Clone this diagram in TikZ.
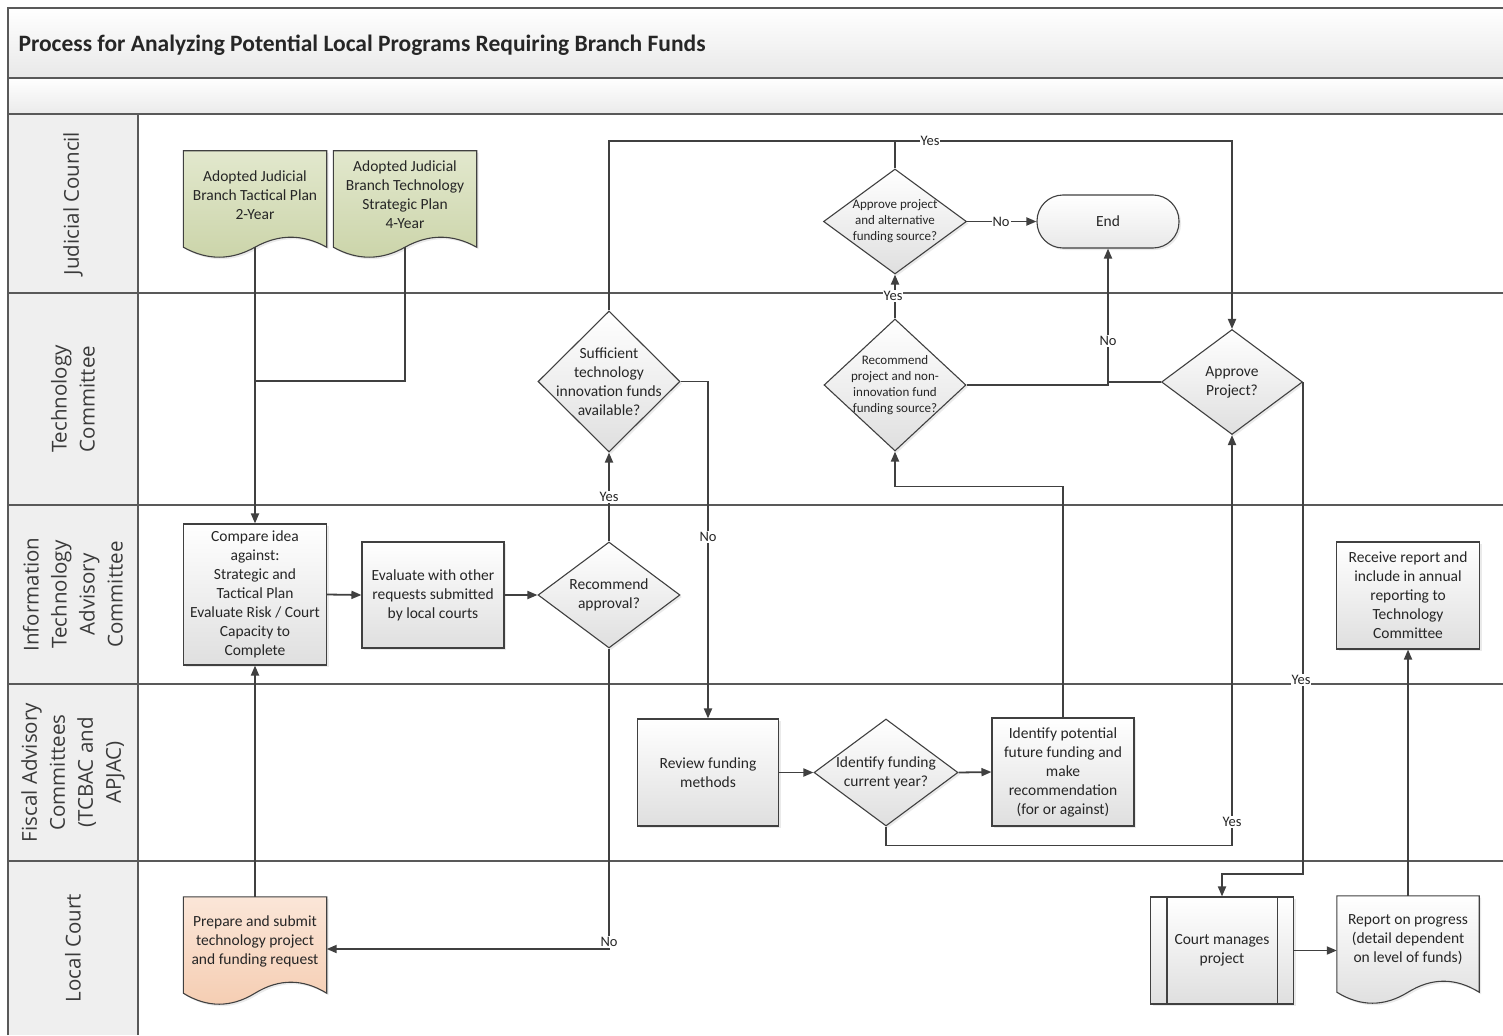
\documentclass[tikz,border=0pt]{standalone}
\usepackage{fontspec}
\setmainfont{Carlito}
\newfontfamily\lanefont{Open Sans}
\usetikzlibrary{arrows.meta,shapes.geometric,shadows,calc}
\definecolor{linec}{HTML}{404040}
\definecolor{lanec}{HTML}{595959}
\definecolor{boxb}{HTML}{DFDFDF}
\definecolor{hdrf}{HTML}{EFEFEF}
\definecolor{txtc}{HTML}{262626}
\definecolor{lanetxt}{HTML}{3A3A3A}
\definecolor{greent}{HTML}{E2E8CD}
\definecolor{greenb}{HTML}{CBD4A9}
\definecolor{peacht}{HTML}{FBE6D8}
\definecolor{peachb}{HTML}{F5CDB2}
\pgfdeclarelayer{lanes}
\pgfdeclarelayer{docs}
\pgfsetlayers{lanes,docs,main}
\tikzset{
  conn/.style={draw=linec, line width=1.8pt},
  arr/.style={conn, -{Triangle[length=10pt,width=8pt]}},
  shad/.style={drop shadow={opacity=0.16, shadow xshift=2pt, shadow yshift=-2pt}},
  boxn/.style={rectangle, draw=linec, line width=1.1pt, top color=white, bottom color=boxb, shad,
    align=center, font=\fontsize{15.5}{19}\selectfont, inner sep=1pt},
  diam/.style={diamond, draw=linec, line width=1.1pt, top color=white, bottom color=boxb, shad, inner sep=0pt},
  term/.style={rectangle, rounded corners=26pt, draw=linec, line width=1.1pt, top color=white, bottom color=boxb!70, shad,
    minimum width=142pt, minimum height=53pt, font=\fontsize{15.5}{19}\selectfont},
  dtext/.style={align=center, font=\fontsize{15.5}{19}\selectfont, inner sep=0pt},
  dsmall/.style={align=center, font=\fontsize{13}{16}\selectfont, inner sep=0pt},
  docn/.style={rectangle, align=center, font=\fontsize{15.5}{19}\selectfont, inner sep=1pt},
  lbl/.style={fill=white, inner sep=1pt, font=\fontsize{14.5}{17}\selectfont},
  lanelbl/.style={rotate=90, align=center, font=\lanefont\fontsize{20.5}{28}\selectfont, text=lanetxt},
  laneline/.style={draw=lanec, line width=2.4pt},
}
\newcommand\docshape[3]{%
  \path[draw=linec, line width=1.1pt, #2, shad]
  let \p1=(#1.north west), \p2=(#1.south east), \n1={\x2-\x1}, \n2={\y2-8pt}, \n3={#3*4/3} in
  (\x1,\y1) -- (\x2,\y1) -- (\x2,\n2)
  .. controls ({\x2-\n1/6},{\n2+\n3}) and ({\x2-\n1/3},{\n2+\n3}) .. ({\x1+\n1/2},\n2)
  .. controls ({\x1+\n1/3},{\n2-\n3}) and ({\x1+\n1/6},{\n2-\n3}) .. (\x1,\n2) -- cycle;}
\begin{document}
\begin{tikzpicture}[x=1pt,y=-1pt, every node/.style={text=txtc}]
\useasboundingbox (0,0) rectangle (1503,1035);
\begin{pgfonlayer}{lanes}
  \fill[white] (0,0) rectangle (1503,1035);
  \shade[top color=white, bottom color=black!9] (8,8) rectangle (1503,78);
  \shade[top color=white, bottom color=black!8] (8,78) rectangle (1503,114);
  \fill[hdrf] (8,114) rectangle (138,1035);
  \draw[laneline] (8,1035) -- (8,8) -- (1503,8);
  \foreach \yy in {78,114,293,505,684,861} \draw[laneline] (8,\yy) -- (1503,\yy);
  \draw[laneline] (138,114) -- (138,1035);
\end{pgfonlayer}

% title and lane labels
\node[anchor=west, font=\bfseries\fontsize{23.5}{28}\selectfont] (title) at (15,45)
  {Process for Analyzing Potential Local Programs Requiring Branch Funds};
\node[lanelbl] (lJC) at (73,203.5) {Judicial Council};
\node[lanelbl] (lTC) at (73,399) {Technology\\Committee};
\node[lanelbl] (lIT) at (73,594.5) {Information\\Technology\\Advisory\\Committee};
\node[lanelbl] (lFC) at (73,772.5) {Fiscal Advisory\\Committees\\(TCBAC and\\APJAC)};
\node[lanelbl] (lLC) at (73,948) {Local Court};

% documents
\node[docn, minimum width=143pt, minimum height=88pt] (tac) at (255,195) {Adopted Judicial\\Branch Tactical Plan\\2-Year};
\node[docn, minimum width=143pt, minimum height=88pt] (str) at (405,195) {Adopted Judicial\\Branch Technology\\Strategic Plan\\4-Year};
\node[docn, minimum width=143pt, minimum height=88pt] (prep) at (255,941) {Prepare and submit\\technology project\\and funding request};
\node[docn, minimum width=142pt, minimum height=88pt] (rpt) at (1408,940) {Report on progress\\(detail dependent\\on level of funds)};
\begin{pgfonlayer}{docs}
  \docshape{tac}{top color=greent, bottom color=greenb}{10pt}
  \docshape{str}{top color=greent, bottom color=greenb}{10pt}
  \docshape{prep}{top color=peacht, bottom color=peachb}{11pt}
  \docshape{rpt}{top color=white, bottom color=boxb}{11pt}
\end{pgfonlayer}

% process boxes
\node[boxn, minimum width=143pt, minimum height=141pt] (cmp) at (255,594.5) {Compare idea\\against:\\Strategic and\\Tactical Plan\\Evaluate Risk / Court\\Capacity to\\Complete};
\node[boxn, minimum width=142pt, minimum height=106pt] (evl) at (433,595) {Evaluate with other\\requests submitted\\by local courts};
\node[boxn, minimum width=141pt, minimum height=107pt] (rev) at (708,772.5) {Review funding\\methods};
\node[boxn, minimum width=142pt, minimum height=108pt] (ipf) at (1063,772) {Identify potential\\future funding and\\make\\recommendation\\(for or against)};
\node[boxn, minimum width=143pt, minimum height=107pt] (rcv) at (1408,595.5) {Receive report and\\include in annual\\reporting to\\Technology\\Committee};
\node[boxn, minimum width=143pt, minimum height=107pt] (crt) at (1222,950.5) {Court manages\\project};
\draw[draw=linec, line width=1.1pt] ([xshift=17pt]crt.north west) -- ([xshift=17pt]crt.south west);
\draw[draw=linec, line width=1.1pt] ([xshift=-17pt]crt.north east) -- ([xshift=-17pt]crt.south east);
\node[term] (end) at (1108,221.5) {End};

% decisions
\node[diam, minimum width=142pt, minimum height=106pt] (rec) at (609,595) {};
\node[dtext] (recT) at (rec) {Recommend\\approval?};
\node[diam, minimum width=142pt, minimum height=141pt] (suf) at (609,381.5) {};
\node[dtext] (sufT) at (suf) {Sufficient\\technology\\innovation funds\\available?};
\node[diam, minimum width=142pt, minimum height=132pt] (nin) at (895,385) {};
\node[dsmall] (ninT) at (nin) {Recommend\\project and non-\\innovation fund\\funding source?};
\node[diam, minimum width=143pt, minimum height=105pt] (alt) at (895,221.5) {};
\node[dsmall] (altT) at (alt) {Approve project\\and alternative\\funding source?};
\node[diam, minimum width=141pt, minimum height=105pt] (apr) at (1232,382) {};
\node[dtext] (aprT) at (apr) {Approve\\Project?};
\node[diam, minimum width=144pt, minimum height=107pt] (idf) at (886,772.5) {};
\node[dtext] (idfT) at (idf) {Identify funding\\current year?};

% helper coordinates
\coordinate (jn) at (255,381);
\coordinate (yTop) at (0,141);
\coordinate (yNo) at (0,949);
\coordinate (yCrt) at (0,874);

% connectors
\draw[arr] ([yshift=-8pt]tac.south) -- (cmp.north);
\draw[conn] ([yshift=-8pt]str.south) -- (str.south |- jn) -- (jn);
\draw[arr] (prep.north) -- (cmp.south);
\draw[arr] (cmp.east) -- (evl.west);
\draw[arr] (evl.east) -- (rec.west);
\draw[arr] (rec.north) -- (suf.south);
\draw[arr] (rec.south) -- (rec.south |- yNo) -- (yNo -| prep.east);
\draw[arr] (suf.north) -- (suf.north |- yTop) -| (apr.north);
\draw[conn] (alt.north) -- (alt.north |- yTop);
\draw[arr] (suf.east) -| (rev.north);
\draw[arr] (rev.east) -- (idf.west);
\draw[arr] (idf.east) -- (ipf.west);
\draw[arr] (ipf.north) -- ++(0,-231) -| (nin.south);
\draw[arr] (idf.south) -- ++(0,19) -| (apr.south);
\draw[arr] (nin.north) -- (alt.south);
\draw[arr] (alt.east) -- (end.west);
\draw[arr] (nin.east) -| (end.south);
\draw[conn] (apr.west) -- (apr.west -| end.south);
\draw[arr] (apr.east) -- (apr.east |- yCrt) -| (crt.north);
\draw[arr] (crt.east) -- (crt.east -| rpt.west);
\draw[arr] (rpt.north) -- (rcv.south);

% connector labels
\node[lbl] (l1) at (930,141) {Yes};
\node[lbl] (l2) at (893,296) {Yes};
\node[lbl] (l3) at (609,497) {Yes};
\node[lbl] (l4) at (1001,221.5) {No};
\node[lbl] (l5) at (1108,341) {No};
\node[lbl] (l6) at (708,537) {No};
\node[lbl] (l7) at (1301,680) {Yes};
\node[lbl] (l8) at (1232,822) {Yes};
\node[lbl] (l9) at (609,942) {No};
\end{tikzpicture}
\end{document}
